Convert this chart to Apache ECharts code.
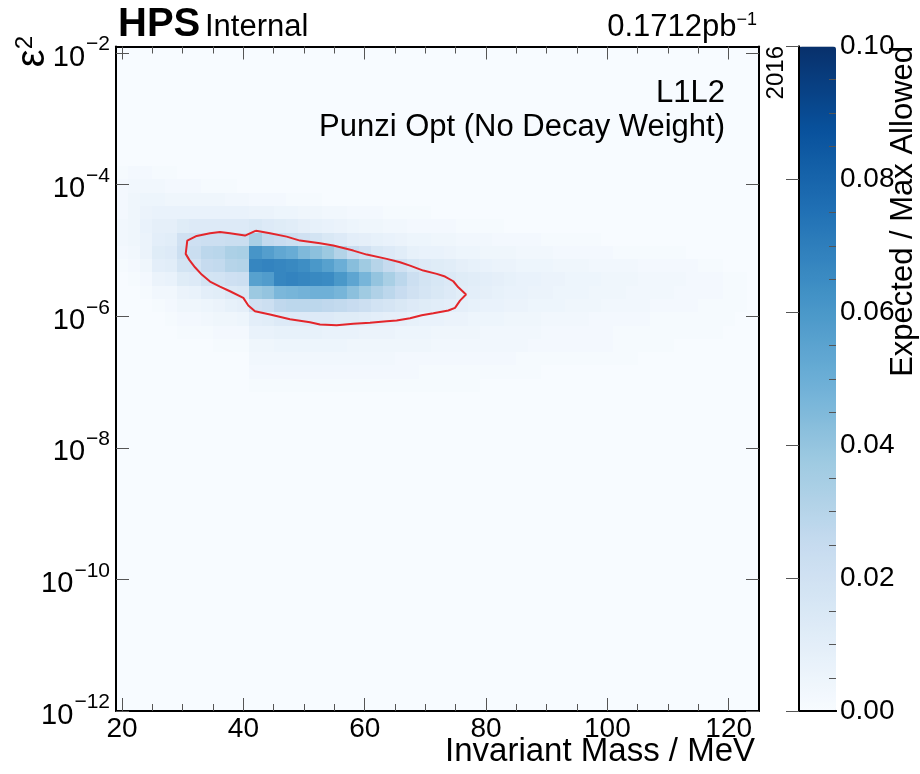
<!DOCTYPE html>
<html><head><meta charset="utf-8">
<script src="https://cdn.jsdelivr.net/npm/echarts@6/dist/echarts.min.js"></script>
<style>html,body{margin:0;padding:0;background:#fff}#c{width:920px;height:774px}</style>
</head><body><div id="c"></div>
<script>
// ---------------- data ----------------
// mass bin centres (MeV), 2 MeV wide bins from 19 to 125
const massCenters = [20,22,24,26,28,30,32,34,36,38,40,42,44,46,48,50,52,54,56,58,60,62,64,66,68,70,72,74,76,78,80,82,84,86,88,90,92,94,96,98,100,102,104,106,108,110,112,114,116,118,120,122,124];
const massBinWidth = 2;
// log10(eps^2) bin centres of the rows that carry signal (top to bottom)
const logEpsCenters = [-3.819,-4.021,-4.223,-4.425,-4.627,-4.829,-5.031,-5.233,-5.435,-5.637,-5.839,-6.041,-6.243,-6.445,-6.647,-6.849,-7.051];
const logEpsBinWidth = 0.202;
// Expected / Max Allowed, one row per logEpsCenters entry, starting at mass 20 MeV
const heatRows = [
 [0.001,0.002,0.002,0.001,0.001],
 [0.002,0.003,0.003,0.003,0.002,0.002,0.002,0.001,0.001,0.001],
 [0.002,0.004,0.005,0.005,0.004,0.004,0.004,0.004,0.004,0.003,0.003,0.002,0.002,0.002,0.001,0.001,0.001],
 [0.002,0.004,0.006,0.007,0.007,0.007,0.007,0.007,0.007,0.007,0.007,0.006,0.006,0.005,0.005,0.004,0.004,0.003,0.003,0.002,0.002,0.002,0.001,0.001,0.001,0.001],
 [0.003,0.004,0.007,0.009,0.009,0.012,0.013,0.013,0.013,0.013,0.013,0.015,0.013,0.012,0.011,0.009,0.008,0.007,0.006,0.005,0.004,0.004,0.003,0.003,0.002,0.002,0.002,0.002,0.001,0.001,0.001,0.001],
 [0.003,0.004,0.006,0.010,0.011,0.020,0.021,0.022,0.022,0.023,0.023,0.034,0.026,0.024,0.022,0.020,0.018,0.015,0.013,0.010,0.009,0.008,0.007,0.006,0.005,0.005,0.004,0.004,0.003,0.003,0.003,0.002,0.002,0.002,0.002,0.001,0.001,0.001,0.001,0.001],
 [0.002,0.003,0.006,0.012,0.013,0.022,0.023,0.028,0.029,0.033,0.034,0.061,0.057,0.053,0.051,0.045,0.042,0.038,0.031,0.024,0.020,0.015,0.013,0.011,0.008,0.007,0.007,0.006,0.005,0.005,0.004,0.004,0.004,0.003,0.003,0.003,0.002,0.002,0.002,0.002,0.002,0.001,0.001,0.001,0.001,0.001,0.001],
 [0.001,0.002,0.004,0.010,0.011,0.018,0.019,0.025,0.026,0.030,0.031,0.067,0.068,0.067,0.066,0.064,0.060,0.056,0.050,0.043,0.037,0.030,0.025,0.020,0.016,0.013,0.012,0.011,0.009,0.008,0.007,0.006,0.006,0.005,0.005,0.005,0.004,0.004,0.004,0.003,0.003,0.003,0.003,0.002,0.002,0.002,0.002,0.002,0.001,0.001],
 [0,0.001,0.002,0.006,0.007,0.012,0.013,0.018,0.019,0.021,0.022,0.056,0.058,0.067,0.068,0.067,0.066,0.065,0.060,0.054,0.047,0.040,0.034,0.028,0.022,0.018,0.016,0.014,0.012,0.011,0.010,0.009,0.008,0.007,0.007,0.006,0.006,0.005,0.005,0.005,0.004,0.004,0.004,0.003,0.003,0.003,0.003,0.002,0.002,0.002,0.001,0.001],
 [0,0,0.001,0.003,0.003,0.006,0.007,0.010,0.011,0.014,0.015,0.038,0.040,0.046,0.047,0.048,0.049,0.049,0.047,0.042,0.037,0.032,0.028,0.024,0.020,0.017,0.015,0.013,0.011,0.010,0.009,0.008,0.007,0.007,0.006,0.006,0.005,0.005,0.005,0.004,0.004,0.004,0.003,0.003,0.003,0.003,0.002,0.002,0.002,0.002,0.001,0.001],
 [0,0,0,0.001,0.002,0.004,0.004,0.005,0.006,0.008,0.009,0.020,0.022,0.027,0.028,0.028,0.028,0.027,0.026,0.024,0.022,0.019,0.017,0.015,0.013,0.012,0.011,0.010,0.009,0.008,0.007,0.007,0.006,0.006,0.005,0.005,0.005,0.004,0.004,0.004,0.003,0.003,0.003,0.003,0.002,0.002,0.002,0.002,0.001,0.001,0.001,0.001],
 [0,0,0,0,0.001,0.002,0.002,0.003,0.004,0.004,0.005,0.010,0.011,0.013,0.013,0.013,0.013,0.013,0.012,0.012,0.011,0.010,0.009,0.009,0.008,0.007,0.007,0.006,0.006,0.005,0.005,0.005,0.004,0.004,0.004,0.003,0.003,0.003,0.003,0.002,0.002,0.002,0.002,0.002,0.001,0.001,0.001,0.001,0.001,0.001,0.001],
 [0,0,0,0,0,0.001,0.001,0.001,0.002,0.002,0.002,0.007,0.007,0.008,0.008,0.008,0.008,0.007,0.007,0.007,0.006,0.006,0.006,0.005,0.005,0.005,0.004,0.004,0.004,0.004,0.003,0.003,0.003,0.003,0.003,0.002,0.002,0.002,0.002,0.002,0.002,0.001,0.001,0.001,0.001,0.001,0.001,0.001,0.001,0.001],
 [0,0,0,0,0,0,0,0,0.001,0.001,0.001,0.004,0.004,0.005,0.005,0.005,0.005,0.005,0.005,0.004,0.004,0.004,0.004,0.004,0.004,0.004,0.003,0.003,0.003,0.003,0.003,0.003,0.003,0.003,0.002,0.002,0.002,0.002,0.002,0.002,0.002,0.001,0.001,0.001,0.001,0.001],
 [0,0,0,0,0,0,0,0,0,0,0,0.003,0.003,0.003,0.003,0.003,0.003,0.003,0.003,0.003,0.003,0.003,0.003,0.002,0.002,0.002,0.002,0.002,0.002,0.002,0.002,0.002,0.002,0.001,0.001,0.001,0.001,0.001,0.001,0.001,0.001,0.001,0.001],
 [0,0,0,0,0,0,0,0,0,0,0,0.002,0.002,0.002,0.002,0.002,0.002,0.002,0.002,0.002,0.002,0.002,0.002,0.002,0.002,0.001,0.001,0.001,0.001,0.001,0.001,0.001,0.001,0.001,0.001],
 [0,0,0,0,0,0,0,0,0,0,0,0.001,0.001,0.001,0.001,0.001,0.001,0.001,0.001,0.001,0.001,0.001,0.001,0.001,0.001,0.001,0.001,0.001,0.001,0.001]
];
// red contour (mass MeV, log10 eps^2)
const contourMass = [42.08,40.27,37.79,36.14,34.50,32.30,30.75,30.49,31.08,32.02,33.13,34.50,36.14,37.79,39.99,40.81,41.91,44.39,47.68,50.98,52.63,55.38,58.12,60.87,63.63,65.27,67.47,69.40,71.31,73.78,74.89,75.71,76.70,75.43,74.60,73.24,71.87,69.66,67.47,65.82,63.63,60.33,58.12,54.82,52.63,49.33,47.14,44.39,42.08];
const contourLogEps = [-4.699,-4.774,-4.740,-4.718,-4.740,-4.779,-4.850,-5.052,-5.143,-5.256,-5.367,-5.473,-5.549,-5.620,-5.721,-5.837,-5.924,-5.974,-6.046,-6.091,-6.126,-6.137,-6.115,-6.100,-6.076,-6.065,-6.030,-5.985,-5.954,-5.913,-5.872,-5.762,-5.670,-5.560,-5.468,-5.397,-5.356,-5.306,-5.230,-5.180,-5.128,-5.063,-5.002,-4.926,-4.891,-4.850,-4.790,-4.740,-4.699];
// ticks
const xMajorTicks = [20,40,60,80,100,120];
const xMinorTicks = [25,30,35,45,50,55,65,70,75,85,90,95,105,110,115];
const yMajorTicks = [-12,-10,-8,-6,-4,-2];
const zMajorTicks = [0,0.02,0.04,0.06,0.08,0.10];
const zMinorTicks = [0.005,0.01,0.015,0.025,0.03,0.035,0.045,0.05,0.055,0.065,0.07,0.075,0.085,0.09,0.095];
const blues = ['#f7fbff','#deebf7','#c6dbef','#9ecae1','#6baed6','#4292c6','#2171b5','#08519c','#08306b'];

// ---------------- build ----------------
const heatData = [];
heatRows.forEach((row, r) => row.forEach((v, c) => { if (v > 0) heatData.push([massCenters[c], logEpsCenters[r], v]); }));
const contourData = contourMass.map((m, i) => [m, contourLogEps[i]]);

const FONT = '"Liberation Sans", Arial, Helvetica, sans-serif';
const tickCol = '#555';
const frame = { show: true, lineStyle: { color: '#000', width: 2 } };
function tickAx(vals, len) { return { show: true, inside: true, length: len, customValues: vals, lineStyle: { color: tickCol, width: 1 } }; }
const noLab = { show: false };

const chart = echarts.init(document.getElementById('c'), null, { renderer: 'canvas' });
chart.setOption({
  animation: false,
  backgroundColor: '#fff',
  grid: [
    { left: 116, top: 46.5, width: 643, height: 664.5, show: true, backgroundColor: '#f7fbff', borderWidth: 0 },
    { left: 799, top: 46.5, width: 37, height: 664.5, show: false }
  ],
  xAxis: [
    { gridIndex: 0, type: 'value', position: 'bottom', min: 19, max: 125, z: 5, axisLine: frame, axisTick: tickAx(xMajorTicks, 13), splitLine: { show: false },
      axisLabel: { customValues: xMajorTicks, fontSize: 28, color: '#000', fontFamily: FONT, margin: 4 } },
    { gridIndex: 0, type: 'value', position: 'bottom', min: 19, max: 125, z: 5, axisLine: { show: false }, axisTick: tickAx(xMinorTicks, 7), splitLine: { show: false }, axisLabel: noLab },
    { gridIndex: 0, type: 'value', position: 'top', min: 19, max: 125, z: 5, axisLine: frame, axisTick: tickAx(xMajorTicks, 13), splitLine: { show: false }, axisLabel: noLab },
    { gridIndex: 0, type: 'value', position: 'top', min: 19, max: 125, z: 5, axisLine: { show: false }, axisTick: tickAx(xMinorTicks, 7), splitLine: { show: false }, axisLabel: noLab },
    { gridIndex: 1, type: 'value', position: 'bottom', min: 0, max: 1, z: 5, axisLine: frame, axisTick: { show: false }, splitLine: { show: false }, axisLabel: noLab },
    { gridIndex: 1, type: 'value', position: 'top', min: 0, max: 1, z: 5, axisLine: frame, axisTick: { show: false }, splitLine: { show: false }, axisLabel: noLab }
  ],
  yAxis: [
    { gridIndex: 0, type: 'value', position: 'left', min: -12, max: -1.9, z: 5, axisLine: frame, axisTick: tickAx(yMajorTicks, 13), splitLine: { show: false },
      axisLabel: { customValues: yMajorTicks, margin: 6, color: '#000', formatter: v => '{b|10}{s|' + String(v).replace('-', '\u2212') + '}',
        rich: { b: { fontSize: 29, fontFamily: FONT, color: '#000', padding: [9, 1, 0, 0] }, s: { fontSize: 21, fontFamily: FONT, color: '#000', verticalAlign: 'top' } } } },
    { gridIndex: 0, type: 'value', position: 'right', min: -12, max: -1.9, z: 5, axisLine: frame, axisTick: tickAx(yMajorTicks, 13), splitLine: { show: false }, axisLabel: noLab },
    { gridIndex: 1, type: 'value', position: 'left', min: 0, max: 0.1, z: 5, axisLine: frame, axisTick: { show: false }, splitLine: { show: false }, axisLabel: noLab },
    { gridIndex: 1, type: 'value', position: 'right', min: 0, max: 0.1, z: 5, axisLine: frame, axisTick: tickAx(zMajorTicks, 13), splitLine: { show: false },
      axisLabel: { customValues: zMajorTicks, margin: 4, fontSize: 28, color: '#000', fontFamily: FONT, formatter: v => v.toFixed(2) } },
    { gridIndex: 1, type: 'value', position: 'right', min: 0, max: 0.1, z: 5, axisLine: { show: false }, axisTick: tickAx(zMinorTicks, 7), splitLine: { show: false }, axisLabel: noLab }
  ],
  visualMap: {
    type: 'continuous', min: 0, max: 0.1, dimension: 2, seriesIndex: 0, show: true, calculable: false, hoverLink: false,
    left: 799, top: 46.5, itemWidth: 37, itemHeight: 664.5, padding: 0, text: null, showLabel: false,
    inRange: { color: blues }
  },
  series: [
    { type: 'custom', xAxisIndex: 0, yAxisIndex: 0, data: heatData, encode: { x: 0, y: 1 }, clip: true, z: 2,
      renderItem: (params, api) => {
        const x = api.value(0), y = api.value(1);
        const p0 = api.coord([x - massBinWidth / 2, y + logEpsBinWidth / 2]);
        const p1 = api.coord([x + massBinWidth / 2, y - logEpsBinWidth / 2]);
        const x0 = Math.round(p0[0]), y0 = Math.round(p0[1]), x1 = Math.round(p1[0]), y1 = Math.round(p1[1]);
        return { type: 'rect', shape: { x: x0, y: y0, width: x1 - x0, height: y1 - y0 }, style: { fill: api.visual('color') } };
      } },
    { type: 'line', xAxisIndex: 0, yAxisIndex: 0, data: contourData, showSymbol: false, symbol: 'none', z: 4,
      lineStyle: { color: '#e3262b', width: 2 } }
  ],
  graphic: [
    { type: 'text', x: 118, y: 25, style: { text: 'HPS', font: 'bold 40px ' + FONT, fill: '#000', textVerticalAlign: 'middle' } },
    { type: 'text', x: 205, y: 27, style: { text: 'Internal', font: '31px ' + FONT, fill: '#000', textVerticalAlign: 'middle' } },
    { type: 'text', x: 757, y: 27, style: { rich: { a: { fontSize: 31, fontFamily: FONT }, s: { fontSize: 18, fontFamily: FONT, verticalAlign: 'top' } },
        text: '{a|0.1712pb}{s|\u22121}', fill: '#000', textAlign: 'right', textVerticalAlign: 'middle' } },
    { type: 'text', x: 725, y: 93, style: { text: 'L1L2', font: '31px ' + FONT, fill: '#000', textAlign: 'right', textVerticalAlign: 'middle' } },
    { type: 'text', x: 725, y: 127, style: { text: 'Punzi Opt (No Decay Weight)', font: '31px ' + FONT, fill: '#000', textAlign: 'right', textVerticalAlign: 'middle' } },
    { type: 'text', x: 755, y: 752, style: { text: 'Invariant Mass / MeV', font: '33px ' + FONT, fill: '#000', textAlign: 'right', textVerticalAlign: 'middle' } },
    { type: 'text', x: 33, y: 36, rotation: Math.PI / 2, style: { rich: { a: { fontSize: 40, fontFamily: FONT }, s: { fontSize: 24, fontFamily: FONT, verticalAlign: 'top' } },
        text: '{a|ε}{s|2}', fill: '#000', textAlign: 'right', textVerticalAlign: 'middle' } },
    { type: 'text', x: 776, y: 46, rotation: Math.PI / 2, style: { text: '2016', font: '24px ' + FONT, fill: '#000', textAlign: 'right', textVerticalAlign: 'middle' } },
    { type: 'text', x: 903, y: 46, rotation: Math.PI / 2, style: { text: 'Expected / Max Allowed', font: '31px ' + FONT, fill: '#000', textAlign: 'right', textVerticalAlign: 'middle' } }
  ]
});
</script></body></html>
